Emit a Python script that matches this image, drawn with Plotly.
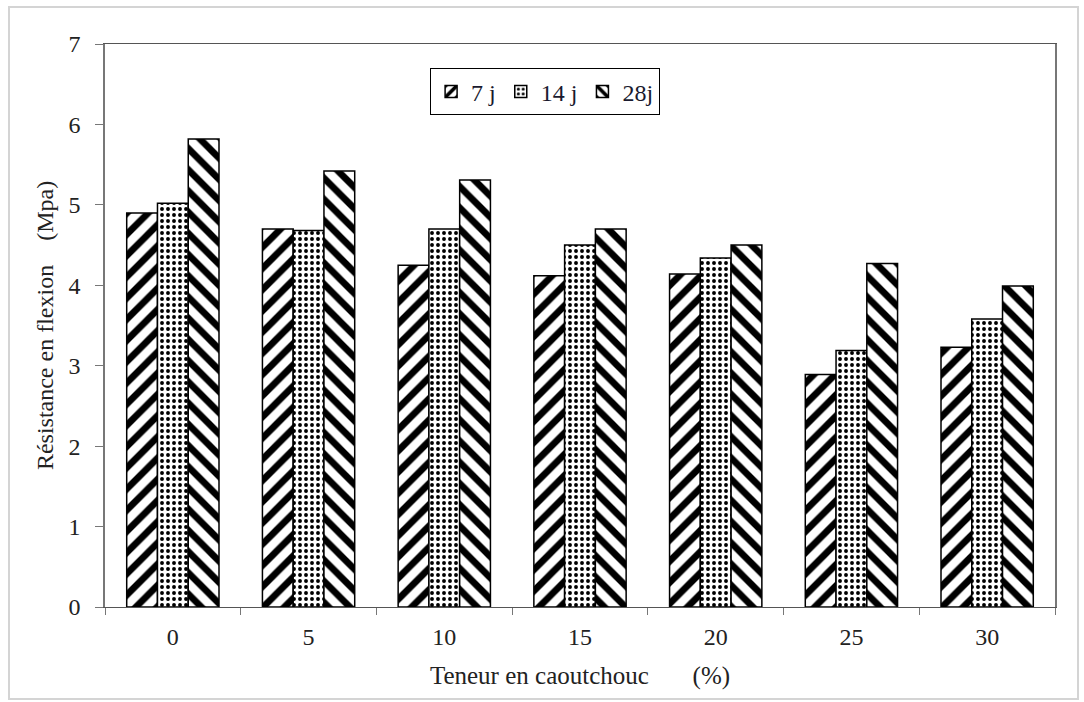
import plotly.graph_objects as go

categories = ["0", "5", "10", "15", "20", "25", "30"]
series_names = ["7 j", "14 j", "28j"]
v7 = [4.90, 4.70, 4.25, 4.12, 4.14, 2.89, 3.23]
v14 = [5.02, 4.68, 4.70, 4.50, 4.34, 3.19, 3.58]
v28 = [5.82, 5.42, 5.31, 4.70, 4.50, 4.27, 3.99]
y_ticks = [0, 1, 2, 3, 4, 5, 6, 7]

font_family = "'Liberation Serif', 'DejaVu Serif', serif"

patterns = [
    dict(shape="/", size=15, solidity=0.45, fgcolor="#000000", bgcolor="white", fgopacity=1),
    dict(shape=".", size=6, solidity=0.33, fgcolor="#000000", bgcolor="white", fgopacity=1),
    dict(shape="\\", size=15, solidity=0.45, fgcolor="#000000", bgcolor="white", fgopacity=1),
]

fig = go.Figure()
for name, vals, pat in zip(series_names, [v7, v14, v28], patterns):
    fig.add_trace(go.Bar(
        x=categories, y=vals, name=name,
        marker=dict(color="white", pattern=pat, line=dict(color="black", width=1.5)),
    ))

fig.update_layout(
    width=1084, height=702,
    margin=dict(l=105, r=29, t=44, b=95),
    paper_bgcolor="white", plot_bgcolor="white",
    barmode="group", bargap=0.32, bargroupgap=0,
    font=dict(family=font_family, size=22, color="#222"),
    legend=dict(
        orientation="h", x=0.342, y=0.957, xanchor="left", yanchor="top",
        bordercolor="black", borderwidth=1.2, bgcolor="white",
        font=dict(family=font_family, size=24, color="#1a1a2e"),
        itemwidth=30, tracegroupgap=0,
    ),
    showlegend=True,
)
fig.update_xaxes(
    type="category", range=[-0.5, 6.5],
    showline=True, linecolor="#555", linewidth=1.2, mirror=True,
    ticks="outside", tickson="boundaries", ticklen=7, tickcolor="#777",
    ticklabelstandoff=8,
    showgrid=False,
    title=dict(text="Teneur en caoutchouc&nbsp;&nbsp;&nbsp;&nbsp;&nbsp;&nbsp;&nbsp;(%)",
               font=dict(family=font_family, size=25, color="#222"), standoff=17),
    tickfont=dict(family=font_family, size=24, color="#222"),
)
fig.update_yaxes(
    range=[0, 7], tickvals=y_ticks,
    showline=True, linecolor="#777", linewidth=1.5, mirror=True,
    ticks="outside", ticklen=8, tickcolor="#777", ticklabelstandoff=10,
    showgrid=False, zeroline=False,
    title=dict(text="Résistance en flexion&nbsp;&nbsp;&nbsp;&nbsp;(Mpa)",
               font=dict(family=font_family, size=24, color="#222"), standoff=8),
    tickfont=dict(family=font_family, size=24, color="#222"),
)
fig.add_shape(type="rect", xref="paper", yref="paper",
              x0=(9 - 105) / 950, x1=(1078 - 105) / 950,
              y0=(607 - 699) / 563, y1=(607 - 7) / 563,
              line=dict(color="#d4d4d4", width=2), layer="below")

fig.write_html("out.html")
